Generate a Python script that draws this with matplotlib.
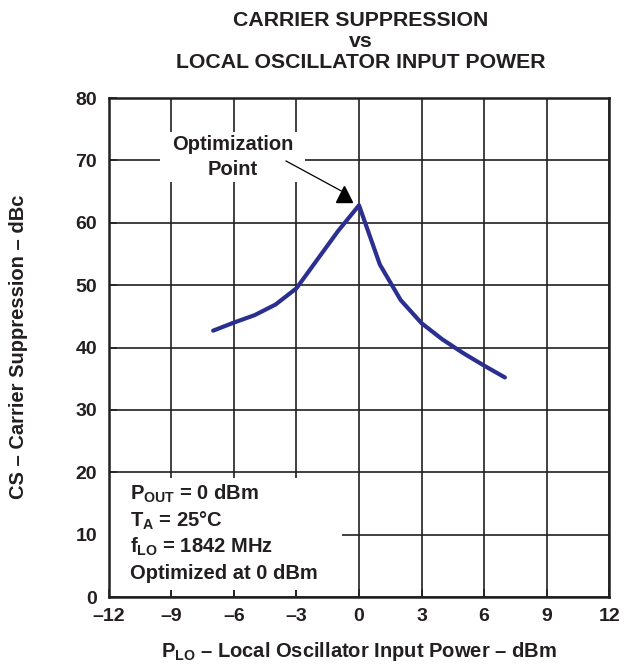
import matplotlib
matplotlib.use("Agg")
import matplotlib.pyplot as plt

plt.rcParams['font.family'] = ['Liberation Sans', 'DejaVu Sans']
plt.rcParams['font.weight'] = 'bold'
plt.rcParams['mathtext.fontset'] = 'custom'
plt.rcParams['mathtext.rm'] = 'Liberation Sans:bold'
plt.rcParams['mathtext.it'] = 'Liberation Sans:bold'
plt.rcParams['mathtext.bf'] = 'Liberation Sans:bold'

lo_power = [-7, -6, -5, -4, -3, -2, -1, 0, 1, 2, 3, 4, 5, 6, 7]
carrier_supp = [42.7, 44.0, 45.2, 46.9, 49.5, 54.1, 58.7, 62.8, 53.3, 47.6, 43.9, 41.3, 39.1, 37.1, 35.2]
x_ticks = [-12, -9, -6, -3, 0, 3, 6, 9, 12]
x_tick_labels = ['–12', '–9', '–6', '–3', '0', '3', '6', '9', '12']
y_ticks = [0, 10, 20, 30, 40, 50, 60, 70, 80]
y_tick_labels = ['0', '10', '20', '30', '40', '50', '60', '70', '80']

TXT = '#231f20'
FS = 14.5
fig = plt.figure(figsize=(6.26, 6.64), dpi=100)
ax = fig.add_axes([0.174, 0.1009, 0.799, 0.7515])
ax.plot(lo_power, carrier_supp, color='#2b3090', lw=3.0, solid_capstyle='round', zorder=3)
ax.set_xlim(-12, 12)
ax.set_ylim(0, 80)
ax.set_xticks(x_ticks)
ax.set_xticklabels(x_tick_labels)
ax.set_yticks(y_ticks)
ax.set_yticklabels(y_tick_labels)
ax.grid(True, color='#231f20', lw=1.2, zorder=0)
ax.set_axisbelow(True)
for s in ax.spines.values():
    s.set_linewidth(1.8)
    s.set_color(TXT)
    s.set_zorder(5)
ax.tick_params(direction='in', length=6, width=1.1, colors=TXT, labelsize=14)
ax.tick_params(axis='y', pad=8.5)
ax.tick_params(axis='x', pad=8)
for lab in ax.get_xticklabels() + ax.get_yticklabels():
    lab.set_fontweight('bold')

fig.text(0.5735, 0.010, r'P$_{\mathrm{LO}}$ – Local Oscillator Input Power – dBm', ha='center', va='baseline',
         fontsize=FS, fontweight='bold', color=TXT)
fig.text(0.0288, 0.4774, 'CS – Carrier Suppression – dBc', ha='center', va='center', rotation=90,
         fontsize=FS, fontweight='bold', color=TXT)

fig.text(0.5767, 0.9835, 'CARRIER SUPPRESSION\nvs\nLOCAL OSCILLATOR INPUT POWER', ha='center', va='top',
         fontsize=15.3, fontweight='bold', color=TXT, linespacing=1.12, multialignment='center')

# Optimization point annotation
ax.add_patch(plt.Rectangle((-9.55, 66.6), 6.98, 7.9, facecolor='white', edgecolor='none', zorder=2))
ax.text(-6.07, 72.6, 'Optimization', ha='center', va='center', fontsize=FS, fontweight='bold', color=TXT, zorder=4)
ax.text(-6.07, 68.6, 'Point', ha='center', va='center', fontsize=FS, fontweight='bold', color=TXT, zorder=4)
ax.plot([-3.5, -0.85], [69.9, 65.1], color='black', lw=0.9, zorder=4)
ax.plot([-0.71], [64.6], marker='^', ms=12, color='black', mec='black', zorder=4)

# Conditions box
ax.add_patch(plt.Rectangle((-12, 1.2), 11.2, 17.9, facecolor='white', edgecolor='none', zorder=2))
lines = [r'P$_{\mathrm{OUT}}$ = 0 dBm', r'T$_{\mathrm{A}}$ = 25°C', r'f$_{\mathrm{LO}}$ = 1842 MHz', 'Optimized at 0 dBm']
ys = [16.5, 12.15, 7.97, 3.8]
for t, yv in zip(lines, ys):
    ax.text(-11.0, yv, t, ha='left', va='center', fontsize=FS, fontweight='bold', color=TXT, zorder=4)

fig.savefig('out.png', dpi=100)
